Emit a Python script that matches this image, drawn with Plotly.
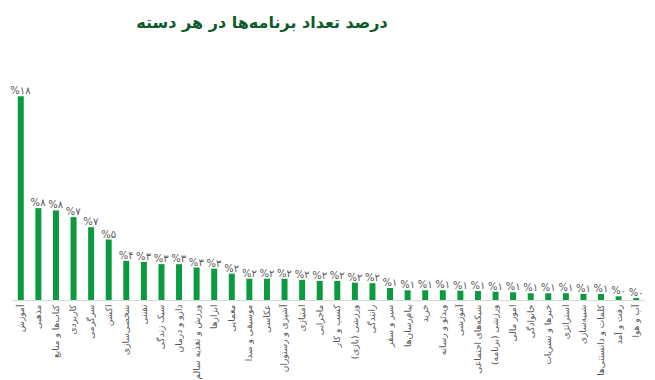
import plotly.graph_objects as go

categories = [
    "آموزش", "مذهبی", "کتاب‌ها و منابع", "کاربردی", "سرگرمی", "اکشن",
    "شخصی‌سازی", "تفننی", "سبک زندگی", "دارو و درمان", "ورزش و تغذیه سالم", "ابزارها",
    "معمایی", "موسیقی و صدا", "عکاسی", "آشپزی و رستوران", "امتیازی", "ماجرایی",
    "کسب و کار", "ورزشی (بازی)", "رانندگی", "سیر و سفر", "پیام‌رسان‌ها", "خرید",
    "ویدئو و رسانه", "آموزشی", "شبکه‌های اجتماعی", "ورزشی (برنامه)", "امور مالی", "خانوادگی",
    "خبرها و نشریات", "استراتژی", "شبیه‌سازی", "کلمات و دانستنی‌ها", "رفت و آمد", "آب و هوا",
]
values = [
    18.2, 8.2, 8.0, 7.4, 6.5, 5.4,
    3.5, 3.4, 3.2, 3.2, 2.9, 2.8,
    2.35, 1.9, 1.9, 1.9, 1.8, 1.7,
    1.7, 1.55, 1.5, 1.07, 0.87, 0.87,
    0.87, 0.83, 0.8, 0.74, 0.69, 0.6,
    0.6, 0.6, 0.54, 0.54, 0.33, 0.18,
]
value_labels = [
    "%۱۸", "%۸", "%۸", "%۷", "%۷", "%۵",
    "%۴", "%۳", "%۳", "%۳", "%۳", "%۳",
    "%۲", "%۲", "%۲", "%۲", "%۲", "%۲",
    "%۲", "%۲", "%۲", "%۱", "%۱", "%۱",
    "%۱", "%۱", "%۱", "%۱", "%۱", "%۱",
    "%۱", "%۱", "%۱", "%۱", "%۰", "%۰",
]
title_text = "درصد تعداد برنامه‌ها در هر دسته"

FONT = "DejaVu Sans"

fig = go.Figure(
    go.Bar(
        x=categories,
        y=values,
        text=value_labels,
        textposition="outside",
        constraintext="none",
        textfont=dict(family=FONT, size=10, color="#595959"),
        marker=dict(color="#0b9a3d", line=dict(width=0)),
        cliponaxis=False,
        hoverinfo="skip",
    )
)

fig.update_layout(
    width=655,
    height=380,
    margin=dict(l=12, r=10, t=80, b=80),
    paper_bgcolor="white",
    plot_bgcolor="white",
    bargap=0.66,
    showlegend=False,
    uniformtext=dict(mode=False),
    title=dict(
        text="<b>" + title_text + "</b>",
        x=262 / 655,
        xanchor="center",
        xref="container",
        y=1 - 22 / 380,
        yanchor="middle",
        font=dict(family=FONT, size=16, color="#0d5a2c"),
    ),
    xaxis=dict(
        type="category",
        tickangle=-90,
        tickfont=dict(family=FONT, size=9, color="#595959"),
        showline=True,
        linecolor="#d9d9d9",
        linewidth=1,
        ticks="",
        showgrid=False,
        automargin=False,
    ),
    yaxis=dict(
        range=[0, 19.64],
        visible=False,
        showgrid=False,
        zeroline=False,
    ),
)

fig.write_html("out.html")
